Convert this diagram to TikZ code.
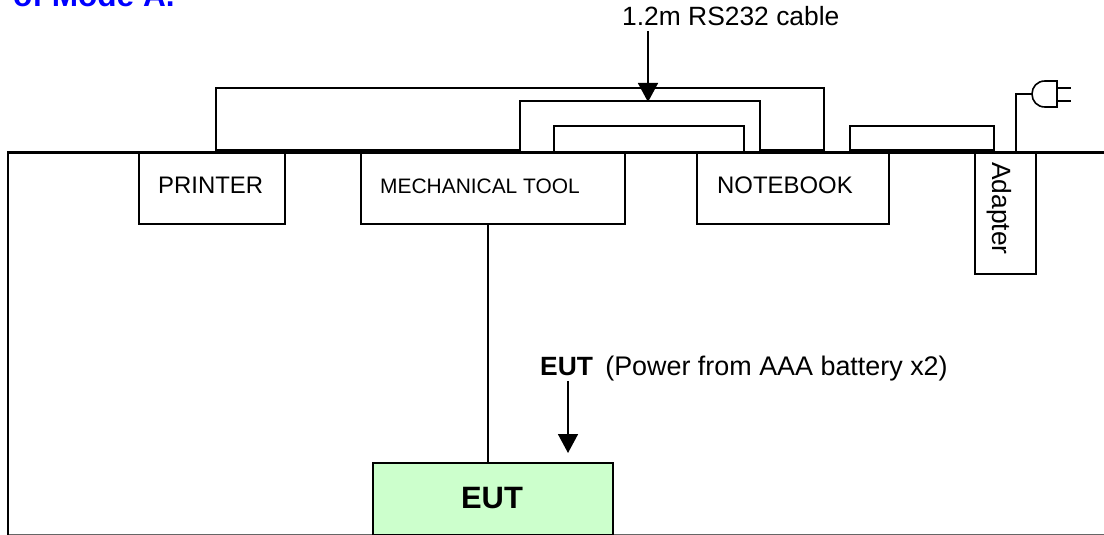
\documentclass[tikz,border=0pt]{standalone}
\usepackage{fontspec}
\setmainfont{Liberation Sans}
\usetikzlibrary{arrows.meta}
\definecolor{eutgreen}{HTML}{CCFFCC}
\tikzset{
  x=1bp,y=-1bp,
  box/.style={draw=black,line width=1.8bp,fill=white,inner sep=0pt,anchor=north west},
  cable/.style={draw=black,line width=1.6bp},
  pointer/.style={draw=black,line width=1.6bp,-{Triangle[length=19bp,width=20bp]}},
  lbl/.style={inner sep=0pt,anchor=base west,font=\fontsize{24}{24}\selectfont},
  biglbl/.style={inner sep=0pt,anchor=base west,font=\fontsize{26.5}{27}\selectfont}
}
\begin{document}
\begin{tikzpicture}
\useasboundingbox (0,0) rectangle (1104,535);
\clip (0,0) rectangle (1104,535);
\fill[white] (0,0) rectangle (1104,535);
\coordinate (tl) at (8,535);
\coordinate (tc) at (8,152.5);
\coordinate (tr) at (1104,152.5);
\coordinate (bl) at (8,534.5);
\coordinate (br) at (1104,534.5);
\draw[draw=black!60,line width=0.8bp] (bl) -- (br);
% cables behind the table line
\draw[cable] (216,151) -- (216,88) -- (824,88) -- (824,151);
\draw[cable] (520,151) -- (520,101) -- (760,101) -- (760,151);
\draw[cable] (554,151) -- (554,126) -- (744,126) -- (744,151);
\draw[cable] (850,151) -- (850,126) -- (994,126) -- (994,151);
\draw[cable] (216,150) -- (520,150);
\draw[cable] (760,150) -- (824,150);
\draw[cable] (850,150) -- (994,150);
% plug
\coordinate (plugwire) at (1032,94);
\draw[cable] (1016,152) -- (1016,94) -- (plugwire);
\draw[cable] (1057,81) -- (1045,81) .. controls (1037,81) and (1032,87) .. (1032,94) .. controls (1032,101) and (1037,107) .. (1045,107) -- (1057,107) -- cycle;
\draw[cable] (1057,88) -- (1071,88);
\draw[cable] (1057,101) -- (1071,101);
% table
\draw[draw=black,line width=2.8bp] (tl) -- (tc) -- (tr);
% equipment
\node[box,minimum width=146bp,minimum height=71bp] (printer) at (138,152.5) {};
\node[lbl] at (158,194) {PRINTER};
\node[box,minimum width=264bp,minimum height=71bp] (tool) at (360,152.5) {};
\node[lbl,font=\fontsize{21}{21}\selectfont] at (380,194) {MECHANICAL TOOL};
\node[box,minimum width=192bp,minimum height=71bp] (notebook) at (696,152.5) {};
\node[lbl] at (717,194) {NOTEBOOK};
\node[box,minimum width=61bp,minimum height=120.5bp] (adapter) at (974,152.5) {};
\node[inner sep=0pt,anchor=base west,rotate=-90,font=\fontsize{26.5}{27}\selectfont] at (992,162) {Adapter};
\node[box,fill=eutgreen,minimum width=240bp,minimum height=72bp] (eut) at (372,462) {};
\node[inner sep=0pt,font=\bfseries\fontsize{31}{31}\selectfont] at (492,498) {EUT};
% connectors
\draw[cable] (tool.south -| 488,0) -- (eut.north -| 488,0);
\coordinate (cabtop) at (648,31);
\coordinate (cabtip) at (648,102);
\draw[pointer] (cabtop) -- (cabtip);
\node[biglbl] at (622,26) {1.2m RS232 cable};
\coordinate (euttop) at (568,381);
\coordinate (euttip) at (568,453);
\draw[pointer] (euttop) -- (euttip);
\node[biglbl] at (540,376) {\textbf{EUT}\hspace{5bp} {\fontsize{27}{27}\selectfont (Power from AAA battery x2)}};
\node[inner sep=0pt,anchor=base west,text=blue,font=\bfseries\fontsize{31.7}{32}\selectfont] at (13,7) {of Mode A.};
\end{tikzpicture}
\end{document}
